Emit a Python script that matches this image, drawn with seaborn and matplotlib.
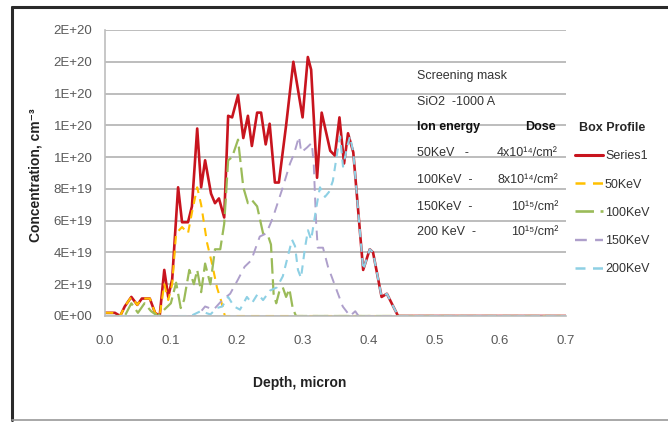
import matplotlib
matplotlib.use("Agg")
import matplotlib.pyplot as plt
from matplotlib.lines import Line2D
import numpy as np
import pandas as pd
import seaborn as sns

# ---------------- data (concentration in units of 1e19 cm^-3) ----------------
series_names = ["Series1", "50KeV", "100KeV", "150KeV", "200KeV"]

x_series1 = [0.0, 0.005, 0.015, 0.023, 0.03, 0.04, 0.049, 0.056, 0.068, 0.076, 0.083,
             0.09, 0.096, 0.102, 0.111, 0.117, 0.126, 0.132, 0.14, 0.146, 0.152, 0.161,
             0.167, 0.173, 0.181, 0.187, 0.193, 0.202, 0.21, 0.217, 0.223, 0.231, 0.237,
             0.244, 0.25, 0.258, 0.264, 0.275, 0.286, 0.30, 0.308, 0.313, 0.322, 0.329,
             0.342, 0.349, 0.356, 0.363, 0.369, 0.377, 0.392, 0.402, 0.407, 0.42, 0.428,
             0.445, 0.7]
y_series1 = [0.2, 0.2, 0.2, 0.0, 0.6, 1.2, 0.7, 1.1, 1.1, 0.2, 0.0,
             2.9, 1.2, 2.3, 8.1, 5.9, 5.9, 6.9, 11.8, 8.1, 9.8, 7.7,
             7.1, 7.4, 6.2, 12.6, 12.5, 13.9, 11.2, 12.6, 10.7, 12.8, 12.8,
             10.8, 12.1, 8.4, 8.4, 12.0, 16.0, 12.5, 16.3, 15.5, 8.7, 12.8,
             10.4, 10.1, 12.5, 9.6, 11.5, 10.3, 2.9, 4.2, 4.0, 1.2, 1.4,
             0.0, 0.0]

x_50kev = [0.0, 0.005, 0.015, 0.023, 0.03, 0.04, 0.049, 0.056, 0.068, 0.076, 0.083,
           0.09, 0.096, 0.102, 0.108, 0.117, 0.126, 0.132, 0.14, 0.146, 0.155, 0.163,
           0.17, 0.176, 0.182, 0.7]
y_50kev = [0.2, 0.2, 0.2, 0.0, 0.6, 1.2, 0.7, 1.1, 1.1, 0.2, 0.0,
           2.0, 1.0, 2.0, 5.2, 5.6, 5.2, 6.5, 8.1, 7.0, 4.6, 3.2,
           1.8, 1.0, 0.0, 0.0]

x_100kev = [0.0, 0.03, 0.04, 0.05, 0.06, 0.07, 0.08, 0.09, 0.1, 0.108, 0.115, 0.12,
            0.128, 0.135, 0.14, 0.146, 0.152, 0.16, 0.167, 0.175, 0.181, 0.187, 0.193,
            0.202, 0.21, 0.217, 0.223, 0.231, 0.24, 0.248, 0.252, 0.256, 0.26, 0.265,
            0.27, 0.275, 0.28, 0.285, 0.29, 0.295, 0.7]
y_100kev = [0.0, 0.0, 0.8, 0.2, 0.8, 0.3, 0.0, 0.4, 0.8, 2.1, 0.5, 1.0,
            2.9, 2.0, 2.9, 1.5, 3.3, 2.0, 4.2, 4.2, 5.8, 9.8, 10.0,
            11.1, 8.1, 7.1, 7.3, 6.9, 5.2, 5.0, 4.5, 1.4, 0.8, 1.6,
            1.8, 1.2, 1.7, 0.5, 0.0, 0.0, 0.0]

x_150kev = [0.0, 0.14, 0.152, 0.165, 0.178, 0.19, 0.202, 0.212, 0.222, 0.235, 0.245,
            0.255, 0.27, 0.281, 0.287, 0.2946, 0.298, 0.3067, 0.314, 0.317, 0.3204,
            0.323, 0.331, 0.3386, 0.352, 0.361, 0.372, 0.38, 0.385, 0.39, 0.7]
y_150kev = [0.0, 0.0, 0.6, 0.4, 1.0, 1.4, 2.3, 3.1, 3.5, 5.0, 5.2,
            6.2, 8.1, 9.6, 10.2, 11.3, 10.3, 10.6, 10.9, 9.5, 6.0,
            4.3, 4.3, 3.1, 1.6, 0.6, 0.0, 0.3, 0.0, 0.0, 0.0]

x_200kev = [0.0, 0.13, 0.145, 0.16, 0.17, 0.178, 0.187, 0.196, 0.205, 0.2155, 0.223,
            0.232, 0.240, 0.2505, 0.261, 0.270, 0.284, 0.2885, 0.293, 0.2976, 0.3037,
            0.3082, 0.313, 0.322, 0.3264, 0.334, 0.340, 0.346, 0.3538, 0.357, 0.3614,
            0.3675, 0.372, 0.377, 0.392, 0.402, 0.407, 0.42, 0.428, 0.445, 0.7]
y_200kev = [0.0, 0.0, 0.3, 0.1, 0.5, 0.6, 1.2, 0.6, 0.4, 1.2, 0.8,
            1.4, 1.0, 1.6, 1.8, 2.5, 4.8, 4.4, 2.9, 2.4, 4.3,
            5.4, 4.8, 7.1, 8.1, 7.5, 7.8, 8.5, 10.6, 11.3, 9.4,
            10.6, 11.3, 10.3, 2.9, 4.2, 4.0, 1.2, 1.4, 0.0, 0.0]

y_tick_values = [0, 2e19, 4e19, 6e19, 8e19, 1e20, 1.2e20, 1.4e20, 1.6e20, 1.8e20]
y_tick_labels = ["0E+00", "2E+19", "4E+19", "6E+19", "8E+19",
                 "1E+20", "1E+20", "1E+20", "2E+20", "2E+20"]
x_tick_values = [0.0, 0.1, 0.2, 0.3, 0.4, 0.5, 0.6, 0.7]
x_tick_labels = ["0.0", "0.1", "0.2", "0.3", "0.4", "0.5", "0.6", "0.7"]

note_lines = ["Screening mask", "SiO2  -1000 A"]
note_header = ("Ion energy", "Dose")
note_rows = [("50KeV   -", "4x10\u00b9\u2074/cm\u00b2"),
             ("100KeV  -", "8x10\u00b9\u2074/cm\u00b2"),
             ("150KeV  -", "10\u00b9\u2075/cm\u00b2"),
             ("200 KeV  -", "10\u00b9\u2075/cm\u00b2")]

# ---------------- styling ----------------
sns.set_theme(style="white")
FAM = ["Liberation Sans Narrow", "Liberation Sans", "DejaVu Sans"]
plt.rcParams["font.family"] = FAM

colors = {"Series1": "#C8141E", "50KeV": "#FFC000", "100KeV": "#9BBB59",
          "150KeV": "#AE9FCB", "200KeV": "#8ED0E4"}
dashes = {"Series1": None, "50KeV": (4, 3), "100KeV": (7, 2.5),
          "150KeV": (5, 3.5), "200KeV": (4, 3)}
widths = {"Series1": 1.9, "50KeV": 1.5, "100KeV": 1.6, "150KeV": 1.4, "200KeV": 1.5}

data = {
    "Series1": (x_series1, y_series1),
    "50KeV": (x_50kev, y_50kev),
    "100KeV": (x_100kev, y_100kev),
    "150KeV": (x_150kev, y_150kev),
    "200KeV": (x_200kev, y_200kev),
}

fig = plt.figure(figsize=(6.68, 4.22), dpi=100)
ax = fig.add_axes([105 / 668, 1 - 316 / 422, (566 - 105) / 668, (316 - 30) / 422])

for name in series_names:
    xs, ys = data[name]
    df = pd.DataFrame({"depth": xs, "conc": np.array(ys) * 1e19})
    kw = dict(data=df, x="depth", y="conc", ax=ax, color=colors[name],
              linewidth=widths[name], estimator=None, sort=False, legend=False)
    line_ax = sns.lineplot(**kw)
    ln = line_ax.get_lines()[-1]
    if dashes[name] is not None:
        ln.set_dashes(dashes[name])
    ln.set_solid_joinstyle("round")

ax.set_xlim(0, 0.7)
ax.set_ylim(0, 1.8e20)
ax.set_yticks(y_tick_values)
ax.set_yticklabels(y_tick_labels)
ax.set_xticks(x_tick_values)
ax.set_xticklabels(x_tick_labels)
ax.yaxis.grid(True, color="#BDBDBD", linewidth=1.4)
ax.set_axisbelow(True)
for s in ["top", "right"]:
    ax.spines[s].set_visible(False)
for s in ["left", "bottom"]:
    ax.spines[s].set_color("#BDBDBD")
    ax.spines[s].set_linewidth(1.2)
ax.tick_params(axis="both", which="major", length=5, width=1.0, color="#BDBDBD",
               labelsize=9.5, labelcolor="#595959", direction="out")
ax.tick_params(axis="x", pad=9)
ax.tick_params(axis="y", pad=4)
ax.set_xlabel("")
ax.set_ylabel("")

fig.text(300 / 668, 1 - 383 / 422, "Depth, micron", ha="center", va="center",
         fontsize=10, fontweight="bold", color="#222222")
fig.text(36 / 668, 1 - 175 / 422, "Concentration, cm\u207b\u00b3", ha="center", va="center",
         rotation=90, fontsize=10, fontweight="bold", color="#222222")

# annotation block
tc = "#333333"
fig.text(417 / 668, 1 - 76 / 422, note_lines[0], fontsize=9, color=tc, va="center")
fig.text(417 / 668, 1 - 102 / 422, note_lines[1], fontsize=9, color=tc, va="center")
fig.text(417 / 668, 1 - 127 / 422, note_header[0], fontsize=9, color="#111111",
         fontweight="bold", va="center")
fig.text(556 / 668, 1 - 127 / 422, note_header[1], fontsize=9, color="#111111",
         fontweight="bold", va="center", ha="right")
row_y = [153, 180, 207, 232]
for (left, right), yy in zip(note_rows, row_y):
    fig.text(417 / 668, 1 - yy / 422, left, fontsize=9, color=tc, va="center")
    fig.text(558 / 668, 1 - yy / 422, right, fontsize=9, color=tc, va="center", ha="right")

# legend
handles = []
for name in series_names:
    h = Line2D([0], [0], color=colors[name], linewidth=widths[name] + 0.3)
    if dashes[name] is not None:
        h.set_dashes(dashes[name])
    handles.append(h)
leg = fig.legend(handles, series_names, title="Box Profile",
                 loc="upper left", bbox_to_anchor=(570 / 668, 1 - 117 / 422),
                 frameon=False, fontsize=9, handlelength=2.2, handletextpad=0.2,
                 labelspacing=1.3, borderaxespad=0)
leg.get_title().set_fontweight("bold")
leg.get_title().set_fontsize(9)
for t in leg.get_texts():
    t.set_color(tc)

# outer frame
fig.add_artist(Line2D([12 / 668, 12 / 668], [0.004, 1 - 7 / 422],
                      transform=fig.transFigure, color="#2a2a2a", linewidth=2.2))
fig.add_artist(Line2D([12 / 668, 1.0], [1 - 7 / 422, 1 - 7 / 422],
                      transform=fig.transFigure, color="#2a2a2a", linewidth=2.2))
fig.add_artist(Line2D([12 / 668, 1.0], [1 - 420 / 422, 1 - 420 / 422],
                      transform=fig.transFigure, color="#9a9a9a", linewidth=1.2))

fig.savefig("out.png", dpi=100)
